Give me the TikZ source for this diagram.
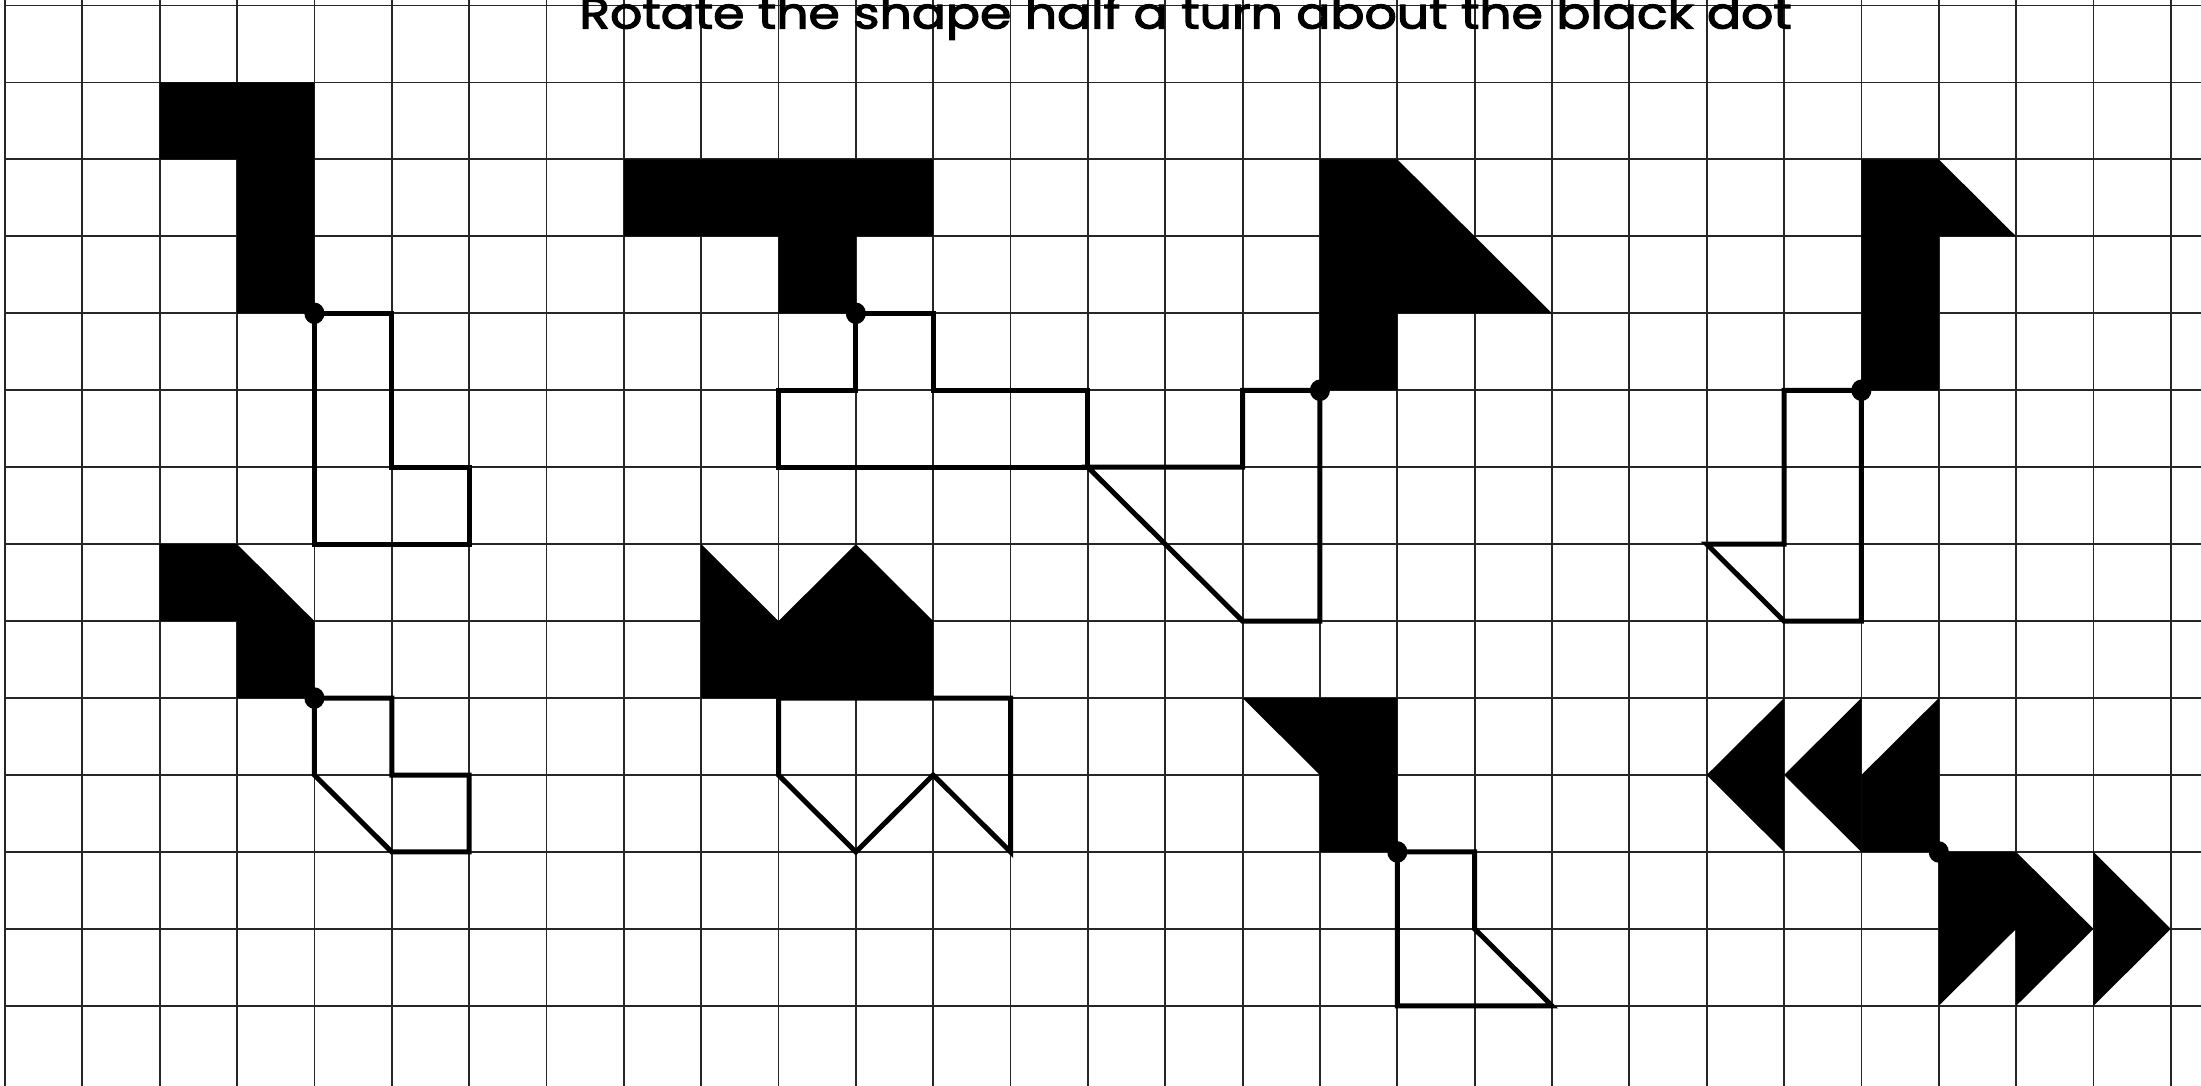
\documentclass[tikz,border=0pt]{standalone}
\usepackage{fontspec}
\newfontfamily\titlefont[FakeBold=2.5]{Poppins}
\begin{document}
\begin{tikzpicture}[x=38.675pt,y=-38.475pt,
  gridline/.style={line width=0.9pt,black!85},
  blackfill/.style={fill=black},
  outl/.style={draw=black,line width=2.5pt,line join=miter},
  pivot/.style={fill=black}]
\useasboundingbox (-0.0646,-0.0715) rectangle (28.3904,14.0416);
\fill[white] (-0.0646,-0.0715) rectangle (28.3904,14.0416);
% grid
\foreach \i in {0,...,28} \draw[gridline] (\i,-0.0715) -- (\i,14.0416);
\foreach \j in {0,...,13} \draw[gridline] (0,\j) -- (28.3904,\j);
% shape 1
\fill[blackfill] (2,1) -- (4,1) -- (4,4) -- (3,4) -- (3,2) -- (2,2) -- cycle;
\draw[outl] (4,4) -- (5,4) -- (5,6) -- (6,6) -- (6,7) -- (4,7) -- cycle;
% shape 2
\fill[blackfill] (8,2) -- (12,2) -- (12,3) -- (11,3) -- (11,4) -- (10,4) -- (10,3) -- (8,3) -- cycle;
\draw[outl] (11,4) -- (12,4) -- (12,5) -- (14,5) -- (14,6) -- (10,6) -- (10,5) -- (11,5) -- cycle;
% shape 3
\fill[blackfill] (17,2) -- (18,2) -- (20,4) -- (18,4) -- (18,5) -- (17,5) -- cycle;
\draw[outl] (17,5) -- (16,5) -- (16,6) -- (14,6) -- (16,8) -- (17,8) -- cycle;
% shape 4
\fill[blackfill] (24,2) -- (25,2) -- (26,3) -- (25,3) -- (25,5) -- (24,5) -- cycle;
\draw[outl] (24,5) -- (23,5) -- (23,7) -- (22,7) -- (23,8) -- (24,8) -- cycle;
% shape 5
\fill[blackfill] (2,7) -- (3,7) -- (4,8) -- (4,9) -- (3,9) -- (3,8) -- (2,8) -- cycle;
\draw[outl] (4,9) -- (5,9) -- (5,10) -- (6,10) -- (6,11) -- (5,11) -- (4,10) -- cycle;
% shape 6
\fill[blackfill] (9,7) -- (10,8) -- (11,7) -- (12,8) -- (12,9) -- (9,9) -- cycle;
\draw[outl] (10,9) -- (13,9) -- (13,11) -- (12,10) -- (11,11) -- (10,10) -- cycle;
% shape 7
\fill[blackfill] (16,9) -- (18,9) -- (18,11) -- (17,11) -- (17,10) -- cycle;
\draw[outl] (18,11) -- (19,11) -- (19,12) -- (20,13) -- (18,13) -- cycle;
% shape 8 (arrows)
\fill[blackfill] (22,10) -- (23,9) -- (23,11) -- cycle;
\fill[blackfill] (23,10) -- (24,9) -- (24,11) -- cycle;
\fill[blackfill] (24,10) -- (25,9) -- (25,11) -- (24,11) -- cycle;
\fill[blackfill] (25,11) -- (26,11) -- (26,12) -- (25,13) -- cycle;
\fill[blackfill] (26,11) -- (27,12) -- (26,13) -- cycle;
\fill[blackfill] (27,11) -- (28,12) -- (27,13) -- cycle;
% pivots
\foreach \p in {(4,4),(11,4),(17,5),(24,5),(4,9),(18,11),(25,11)}
  \fill[pivot] \p ellipse [x radius=0.13, y radius=0.14];
% title
\node[anchor=base west, inner sep=0pt] (title) at (7.421,0.299)
  {\resizebox{606pt}{16.5pt}{\titlefont Rotate the shape half a turn about the black dot}};
\end{tikzpicture}
\end{document}
